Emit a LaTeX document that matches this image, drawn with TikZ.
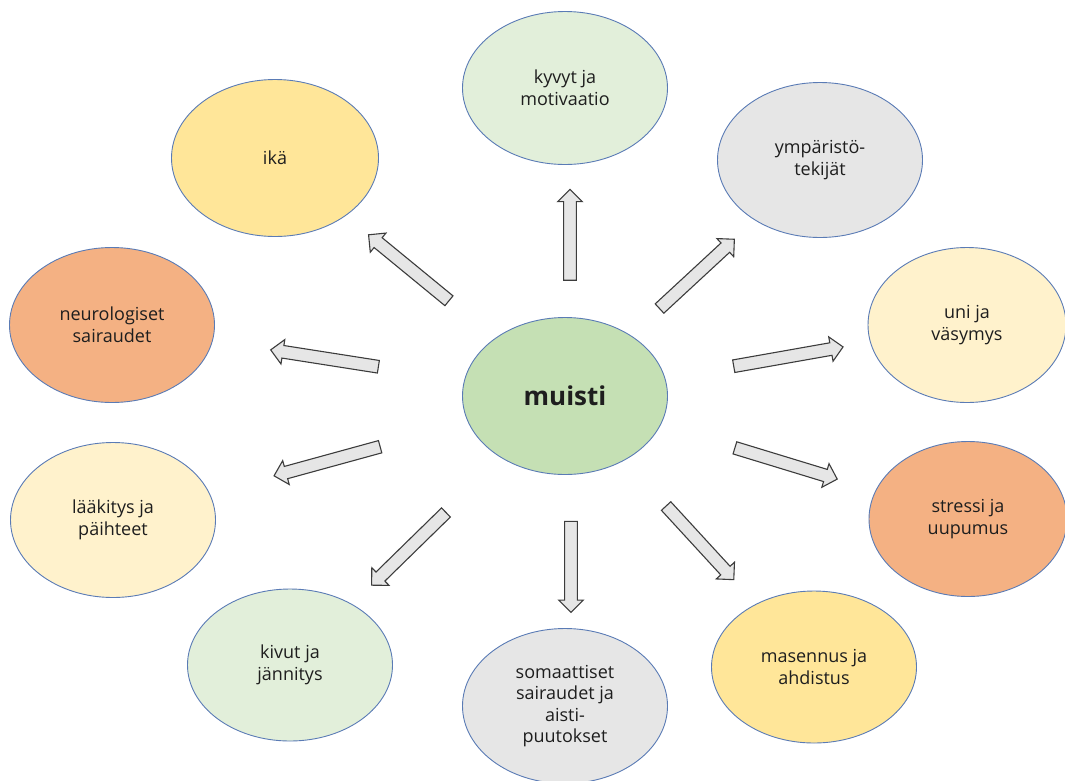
\documentclass[tikz,border=0pt]{standalone}
\usepackage{fontspec}
\setmainfont{Open Sans}
\usetikzlibrary{shapes.geometric,shapes.arrows}
\definecolor{reuna}{HTML}{5A7BB5}
\definecolor{teksti}{HTML}{1E1E1E}
\definecolor{nuolireuna}{HTML}{3C3C3C}
\definecolor{nuolitaytto}{HTML}{E6E6E6}
\definecolor{keskivihrea}{HTML}{C5E0B4}
\definecolor{vaaleavihrea}{HTML}{E2EFDA}
\definecolor{keltainen}{HTML}{FFE699}
\definecolor{vaaleakelta}{HTML}{FFF2CC}
\definecolor{harmaa}{HTML}{E6E6E6}
\definecolor{oranssi}{HTML}{F4B183}

\begin{document}
\begin{tikzpicture}[x=1pt,y=-1pt,
  pallo/.style={ellipse, draw=reuna, line width=0.9pt, minimum width=205pt, minimum height=155pt,
    inner sep=0pt, align=center, text=teksti, font=\fontsize{18}{21.6}\selectfont},
  nuoli/.style={single arrow, draw=nuolireuna, fill=nuolitaytto, line width=1.1pt,
    inner xsep=0pt, inner ysep=5.8pt, single arrow head extend=6pt, minimum height=#1,
    sloped, allow upside down}]
\useasboundingbox (0,0) rectangle (1065,780);
\node [pallo, fill=keskivihrea, minimum height=157pt, font=\fontsize{26}{31}\selectfont\bfseries] (muisti) at (565,396) {muisti};
\node [pallo, fill=vaaleavihrea, minimum height=153pt] (kyvyt) at (565,88) {kyvyt ja\\motivaatio};
\node [pallo, fill=keltainen, minimum width=207pt, minimum height=157pt] (ika) at (275,158) {ikä};
\node [pallo, fill=harmaa] (ymparisto) at (820,160) {ympäristö-\\tekijät};
\node [pallo, fill=oranssi] (neuro) at (112,325) {neurologiset\\sairaudet};
\node [pallo, fill=vaaleakelta, minimum width=198pt] (uni) at (967,325) {uni ja\\väsymys};
\node [pallo, fill=vaaleakelta] (laake) at (113,520) {lääkitys ja\\päihteet};
\node [pallo, fill=oranssi, minimum width=198pt] (stressi) at (968,519) {stressi ja\\uupumus};
\node [pallo, fill=vaaleavihrea, minimum height=152pt] (kivut) at (290,665) {kivut ja\\jännitys};
\node [pallo, fill=harmaa] (somaatti) at (565,706) {somaattiset\\sairaudet ja\\aisti-\\puutokset};
\node [pallo, fill=keltainen, minimum height=152pt] (masennus) at (814,667) {masennus ja\\ahdistus};
\path ([xshift=5pt]muisti.north) -- ([xshift=5pt]kyvyt.south) node [nuoli=91pt, pos=0.52] {};
\path (muisti) -- (ika) node [nuoli=104pt, pos=0.56] {};
\path (muisti) -- (ymparisto) node [nuoli=102pt, pos=0.515] {};
\path (muisti) -- (neuro) node [nuoli=109pt, pos=0.543] {};
\path (muisti) -- (uni) node [nuoli=111pt, pos=0.586] {};
\path (muisti) -- (laake) node [nuoli=110pt, pos=0.534] {};
\path (muisti) -- (stressi) node [nuoli=107pt, pos=0.57] {};
\path (muisti) -- (kivut) node [nuoli=104pt, pos=0.606] {};
\path ([xshift=6pt]muisti.south) -- ([xshift=6pt]somaatti.north) node [nuoli=91pt, pos=0.58] {};
\path (muisti) -- (masennus) node [nuoli=100pt, pos=0.558] {};
\end{tikzpicture}
\end{document}
